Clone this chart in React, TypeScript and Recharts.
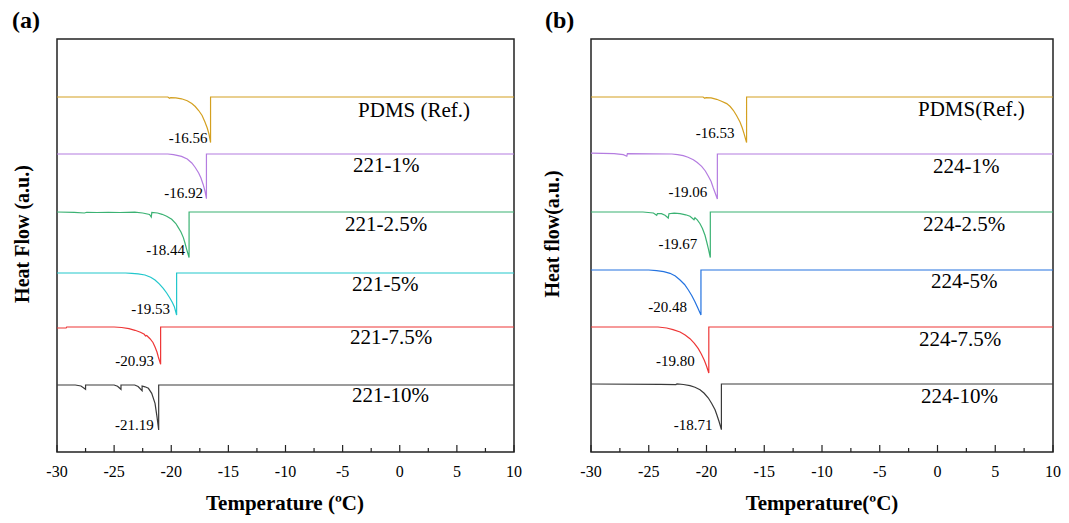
import { LineChart, Line, XAxis, YAxis, ReferenceArea, ReferenceDot } from 'recharts';

const serif = '"Times New Roman", "Liberation Serif", serif';

// x axis (temperature, ºC)
const xTicks = [-30, -27.5, -25, -22.5, -20, -17.5, -15, -12.5, -10, -7.5, -5, -2.5, 0, 2.5, 5, 7.5, 10];
const majorTicks = [-30, -25, -20, -15, -10, -5, 0, 5, 10];

// ---- panel (a): 221 series ----
const namesA = ['PDMS (Ref.)', '221-1%', '221-2.5%', '221-5%', '221-7.5%', '221-10%'];
const offsetsA = [355, 298, 240, 179, 125, 67];
const peaksA = [-16.56, -16.92, -18.44, -19.53, -20.93, -21.19];

const pdmsA = [[-30, 0], [-20.3, 0], [-20.15, -1.2], [-20.05, -0.6], [-19.6, -0.9], [-19.1, -1.8], [-18.6, -3.8], [-18.2, -6.6], [-17.9, -9.5], [-17.6, -13.5], [-17.3, -18.5], [-17.05, -25], [-16.85, -31], [-16.7, -37], [-16.56, -45.6], [-16.56, 0], [10, 0]];
const a221_1 = [[-30, 0], [-20.3, 0], [-19.8, -0.6], [-19.1, -2.4], [-18.6, -5], [-18.2, -9], [-17.9, -13.5], [-17.6, -19], [-17.4, -24], [-17.2, -30.7], [-17.05, -37], [-16.92, -44.7], [-16.92, 0], [10, 0]];
const a221_25 = [[-30, 0], [-28.5, -0.3], [-27.6, -1.0], [-27.4, -0.3], [-26.5, -0.5], [-25.5, -0.3], [-24.5, -0.5], [-23.2, -0.2], [-22.5, -1.0], [-21.9, -2.5], [-21.75, -5], [-21.7, -0.5], [-21.2, -1.0], [-20.8, -2.3], [-20.4, -4.2], [-19.96, -7.3], [-19.6, -11.5], [-19.38, -15.6], [-19.15, -20], [-18.94, -25.6], [-18.8, -31], [-18.65, -37.3], [-18.44, -45.6], [-18.44, 0], [10, 0]];
const a221_5 = [[-30, 0], [-24, 0], [-23.46, -0.3], [-22.9, -0.9], [-22.3, -2], [-21.8, -4.2], [-21.42, -7], [-21.05, -10.8], [-20.7, -15.3], [-20.4, -20], [-20.11, -25.3], [-19.9, -29.5], [-19.73, -33.7], [-19.53, -42], [-19.53, 0], [10, 0]];
const a221_75 = [[-30, -1], [-29.2, -1], [-29.15, 0], [-25, 0], [-24.34, -0.5], [-23.7, -1.6], [-23.17, -3.3], [-22.7, -5.2], [-22.36, -7.3], [-22.25, -9], [-22.15, -8.5], [-21.86, -11.7], [-21.6, -15.5], [-21.42, -20], [-21.25, -25], [-21.13, -30], [-20.93, -37.3], [-20.93, 0], [10, 0]];
const a221_10 = [[-30, 0], [-28.4, 0], [-27.9, -1], [-27.5, -4.3], [-27.5, 0], [-25, 0], [-24.7, -1.2], [-24.4, -4.3], [-24.4, 0], [-23.2, 0], [-22.9, -1.5], [-22.55, -5.7], [-22.55, -1], [-22.3, -1.8], [-22.0, -3.3], [-21.71, -8.3], [-21.42, -18.3], [-21.25, -31.7], [-21.1, -45], [-21.1, 0], [10, 0]];

// ---- panel (b): 224 series ----
const namesB = ['PDMS(Ref.)', '224-1%', '224-2.5%', '224-5%', '224-7.5%', '224-10%'];
const offsetsB = [355, 298, 240, 182, 125, 68];
const peaksB = [-16.53, -19.06, -19.67, -20.48, -19.80, -18.71];

const pdmsB = [[-30, 0], [-20.3, 0], [-20.15, -1.2], [-20.05, -0.6], [-19.6, -0.9], [-19.12, -2.3], [-18.7, -4.2], [-18.25, -6.6], [-17.95, -9.5], [-17.68, -13.3], [-17.4, -18.5], [-17.1, -25], [-16.9, -31], [-16.75, -36.7], [-16.53, -45.6], [-16.53, 0], [10, 0]];
const b224_1 = [[-30, 0.8], [-28, 0.3], [-27.2, -0.7], [-26.9, -2.2], [-26.85, 0.3], [-25, 0.2], [-23, 0], [-22.5, -0.6], [-22.01, -1.7], [-21.6, -3.3], [-21.14, -5.7], [-20.8, -8.5], [-20.42, -12.3], [-20.1, -17], [-19.84, -22.3], [-19.6, -27.5], [-19.41, -34], [-19.25, -39], [-19.06, -45], [-19.06, 0], [10, 0]];
const b224_25 = [[-30, 0], [-25.5, 0], [-24.6, -1], [-24.31, -3.3], [-24.25, -1.5], [-23.9, -1.7], [-23.59, -3.3], [-23.31, -6], [-23.25, -1.7], [-22.8, -1.2], [-22.29, -1.7], [-21.8, -2.8], [-21.43, -4.3], [-21.08, -7.7], [-21.0, -5.8], [-20.8, -7.8], [-20.56, -11.7], [-20.35, -16.5], [-20.13, -23.3], [-19.98, -30], [-19.84, -36.7], [-19.67, -45.6], [-19.67, 0], [10, 0]];
const b224_5 = [[-30, 0], [-25, 0], [-24.32, -0.7], [-23.7, -1.7], [-23.16, -3.3], [-22.7, -6], [-22.29, -10], [-21.9, -14.5], [-21.57, -20], [-21.28, -25.5], [-21.0, -31.7], [-20.75, -38], [-20.48, -45], [-20.48, 0], [10, 0]];
const b224_75 = [[-30, 0], [-24.2, 0], [-23.45, -1], [-22.9, -2.6], [-22.29, -5], [-21.85, -8], [-21.43, -11.7], [-21.05, -16.3], [-20.71, -21.7], [-20.45, -27], [-20.19, -33.3], [-20.0, -39], [-19.80, -46], [-19.80, 0], [10, 0]];
const b224_10 = [[-30, 0], [-24, -0.3], [-22.65, -0.6], [-22.55, 0.2], [-22.0, -0.5], [-21.43, -1.7], [-21.0, -3.3], [-20.56, -5.7], [-20.2, -9.3], [-19.84, -14], [-19.55, -19.5], [-19.26, -25.7], [-19.1, -31], [-18.92, -37.3], [-18.71, -45.7], [-18.71, 0], [10, 0]];

// ---- styles / layout ----
const colors = ['#D4A020', '#B47CE0', '#3BB273', '#22C7CC', '#EE3636', '#3a3a3a'];
const colorsB = ['#D4A020', '#B47CE0', '#3BB273', '#2473E0', '#EE3636', '#3a3a3a'];

const layoutA = {
  nameX: [-3.65, -4.09, -4.79, -4.18, -4.35, -4.18],
  nameDy: [20, 18, 19, 18, 17, 17],
  peakDx: [-3, -3.5, -4, -6.5, -6.5, -5],
  peakDy: [0, -1, -3, -1, 2, 0],
};
const layoutB = {
  nameX: [-1.69, -0.39, -1.26, -0.56, -1.6, -1.43],
  nameDy: [19, 19, 19, 18, 19, 19],
  peakDx: [-12, -10, -13, -14, -14, -9],
  peakDy: [-5, -2, -9, -3, -7, 0],
};

const toRows = (pts: number[][], off: number) => pts.map(([t, f]) => ({ t, hf: off + f }));

const TempTick = (props: any) => {
  const { x, y, payload } = props;
  const major = majorTicks.includes(payload.value);
  return (
    <g>
      <line x1={x} x2={x} y1={y} y2={y - (major ? 7 : 4)} stroke="#222" strokeWidth={1.2} />
      {major && (
        <text x={x} y={y + 25} textAnchor="middle" fontSize={16} fontFamily={serif} fill="#000">
          {String(payload.value)}
        </text>
      )}
    </g>
  );
};

function Panel({ curves, offsets, names, peaks, lineColors, layout, width, marginRight }: any) {
  return (
    <LineChart width={width} height={523} margin={{ top: 39, right: marginRight, bottom: 31, left: 57 }}>
      <XAxis
        dataKey="t"
        type="number"
        domain={[-30, 10]}
        ticks={xTicks}
        interval={0}
        allowDataOverflow
        axisLine={false}
        tickLine={false}
        tickSize={0}
        tickMargin={0}
        height={40}
        tick={TempTick}
      />
      <YAxis type="number" domain={[0, 413]} hide allowDataOverflow />
      <ReferenceArea x1={-30} x2={10} y1={0} y2={413} fill="none" fillOpacity={0} stroke="#222" strokeWidth={1.5} ifOverflow="visible" />
      {curves.map((pts: number[][], i: number) => (
        <Line
          key={names[i]}
          data={toRows(pts, offsets[i])}
          dataKey="hf"
          type="linear"
          stroke={lineColors[i]}
          strokeWidth={1.2}
          dot={false}
          activeDot={false}
          isAnimationActive={false}
        />
      ))}
      {curves.map((pts: number[][], i: number) => {
        const low = pts.reduce((m, p) => (p[1] < m[1] ? p : m), pts[0]);
        return (
          <ReferenceDot
            key={'pk' + i}
            x={low[0]}
            y={offsets[i] + low[1]}
            r={0}
            ifOverflow="visible"
            shape={(p: any) => (
              <text x={p.cx + layout.peakDx[i]} y={p.cy + layout.peakDy[i]} textAnchor="end" fontSize={15} fontFamily={serif} fill="#000">
                {peaks[i].toFixed(2)}
              </text>
            )}
          />
        );
      })}
      {names.map((n: string, i: number) => (
        <ReferenceDot
          key={'nm' + i}
          x={layout.nameX[i]}
          y={offsets[i]}
          r={0}
          ifOverflow="visible"
          shape={(p: any) => (
            <text x={p.cx} y={p.cy + layout.nameDy[i]} fontSize={21} fontFamily={serif} fill="#000">
              {n}
            </text>
          )}
        />
      ))}
    </LineChart>
  );
}

export default function App() {
  const titleStyle = { fontFamily: serif, fontWeight: 700, fill: '#000' } as const;
  return (
    <div style={{ position: 'absolute', left: 0, top: 0, width: 1069, height: 523, background: '#fff' }}>
      <div style={{ position: 'absolute', left: 0, top: 0 }}>
        <Panel
          curves={[pdmsA, a221_1, a221_25, a221_5, a221_75, a221_10]}
          offsets={offsetsA}
          names={namesA}
          peaks={peaksA}
          lineColors={colors}
          layout={layoutA}
          width={534}
          marginRight={20}
        />
      </div>
      <div style={{ position: 'absolute', left: 534, top: 0 }}>
        <Panel
          curves={[pdmsB, b224_1, b224_25, b224_5, b224_75, b224_10]}
          offsets={offsetsB}
          names={namesB}
          peaks={peaksB}
          lineColors={colorsB}
          layout={layoutB}
          width={535}
          marginRight={16}
        />
      </div>
      <svg width={1069} height={523} style={{ position: 'absolute', left: 0, top: 0, pointerEvents: 'none' }}>
        <text x={12} y={28} fontSize={24} {...titleStyle}>(a)</text>
        <text x={545} y={28} fontSize={24} {...titleStyle}>(b)</text>
        <text x={29} y={234} fontSize={20} textAnchor="middle" transform="rotate(-90, 29, 234)" {...titleStyle}>Heat Flow (a.u.)</text>
        <text x={559} y={234} fontSize={20} textAnchor="middle" transform="rotate(-90, 559, 234)" {...titleStyle}>Heat flow(a.u.)</text>
        <text x={285} y={510} fontSize={21} textAnchor="middle" {...titleStyle}>Temperature (ºC)</text>
        <text x={822} y={510} fontSize={21} textAnchor="middle" {...titleStyle}>Temperature(ºC)</text>
      </svg>
    </div>
  );
}
